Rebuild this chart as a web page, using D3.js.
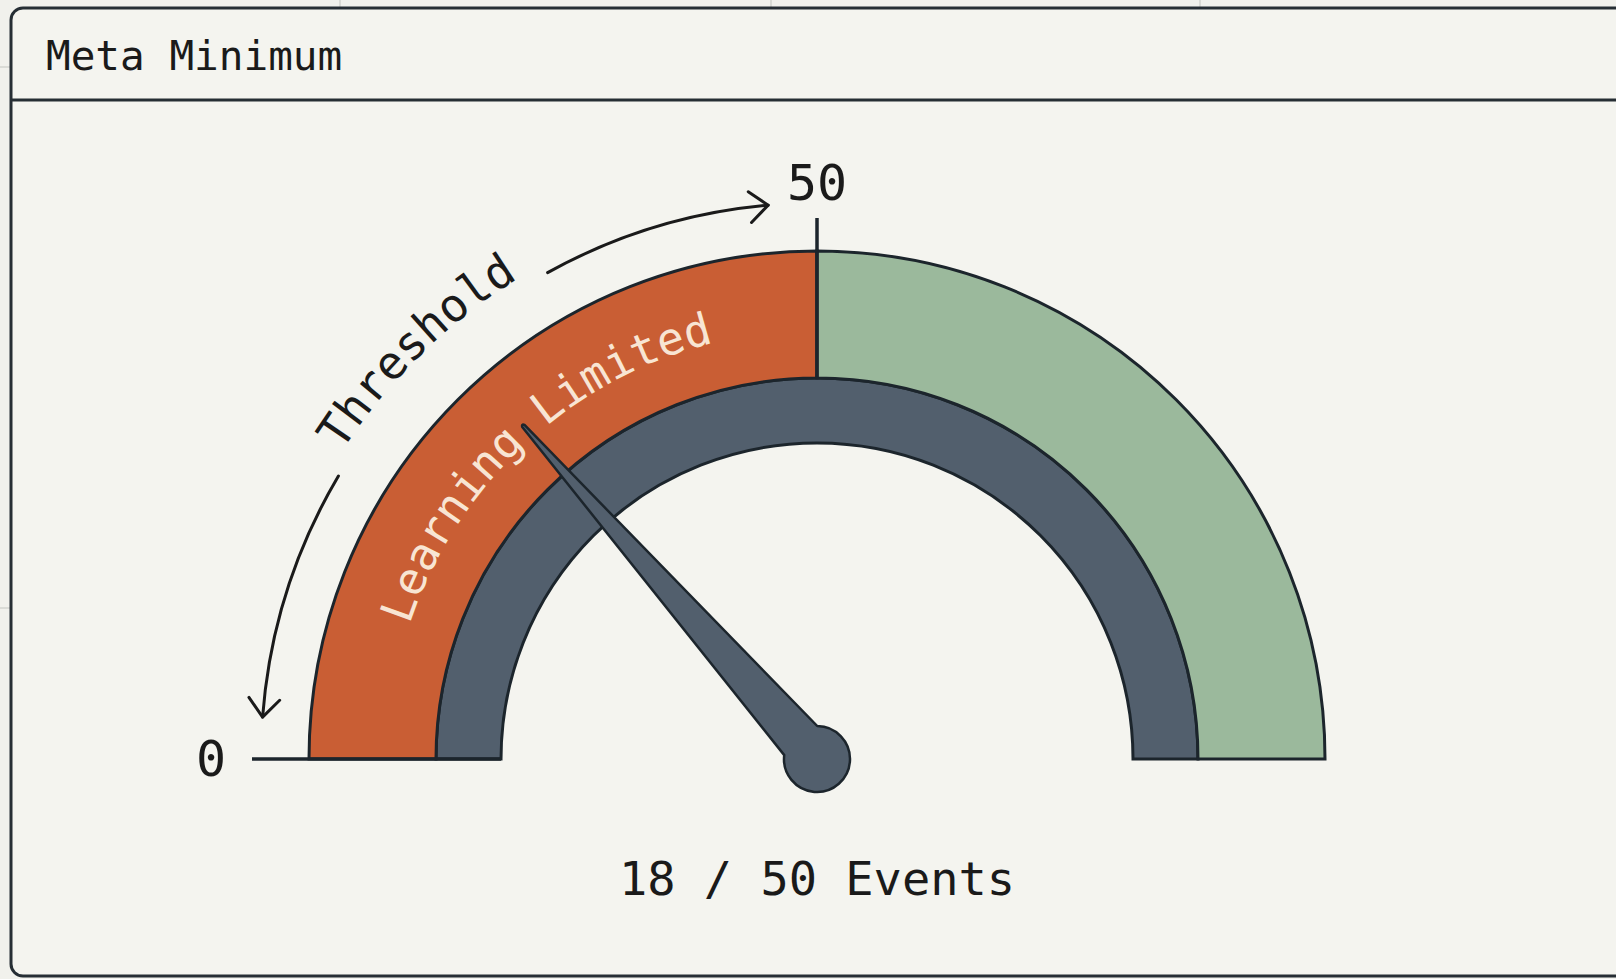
<!DOCTYPE html>
<html>
<head>
<meta charset="utf-8">
<script src="https://cdn.jsdelivr.net/npm/d3@7"></script>
<style>
  html, body { margin: 0; padding: 0; background: #f1f1ec; }
  #gauge { width: 1616px; height: 979px; }
  text { font-family: "DejaVu Sans Mono", monospace; }
</style>
</head>
<body>
<div id="gauge"></div>
<script>
// chart values
const titleText = "Meta Minimum";
const gaugeDomain = [0, 100];
const segmentStops = [0, 50, 100];
const segmentColors = ["#c95e34", "#9bb99c"];
const segmentLabels = ["Learning Limited", ""];
const tickValues = [0, 50];
const tickLabels = ["0", "50"];
const needleValue = 27;
const eventCount = 18;
const eventTarget = 50;
const thresholdLabel = "Threshold";

class GaugeVis {
  constructor(parentElement) {
    this.parentElement = parentElement;
    this.ink = "#1c252c";
    this.slate = "#525f6d";
    this.initVis();
  }

  initVis() {
    let vis = this;

    vis.width = 1616;
    vis.height = 979;
    vis.cx = 817;
    vis.cy = 759;

    // radii of the two rings
    vis.rOuter = 508;
    vis.rMid = 381;
    vis.rInner = 316;

    vis.svg = d3
      .select("#" + vis.parentElement)
      .append("svg")
      .attr("width", vis.width)
      .attr("height", vis.height);

    // faint dashboard grid behind the card
    [340, 771, 1200].forEach((x) => {
      vis.svg.append("line")
        .attr("x1", x).attr("x2", x).attr("y1", 0).attr("y2", 9)
        .attr("stroke", "#d2d3cf").attr("stroke-width", 1.5);
    });
    [67, 608].forEach((y) => {
      vis.svg.append("line")
        .attr("x1", 0).attr("x2", 11).attr("y1", y).attr("y2", y)
        .attr("stroke", "#d2d3cf").attr("stroke-width", 1.5);
    });

    // card
    vis.svg.append("rect")
      .attr("x", 11).attr("y", 8)
      .attr("width", vis.width + 20).attr("height", 968)
      .attr("rx", 12)
      .attr("fill", "#f4f4ef")
      .attr("stroke", "#262e34")
      .attr("stroke-width", 3);

    vis.svg.append("line")
      .attr("x1", 11).attr("x2", vis.width)
      .attr("y1", 100).attr("y2", 100)
      .attr("stroke", "#262e34")
      .attr("stroke-width", 3);

    vis.svg.append("text")
      .attr("x", 46).attr("y", 70)
      .attr("font-size", 41)
      .attr("fill", "#1a1a1a")
      .text(titleText);

    vis.g = vis.svg.append("g")
      .attr("transform", `translate(${vis.cx}, ${vis.cy})`);

    // 0 at the left, 100 at the right (d3.arc angles)
    vis.angle = d3.scaleLinear()
      .domain(gaugeDomain)
      .range([-Math.PI / 2, Math.PI / 2]);

    this.updateVis();
  }

  point(v, r) {
    let a = this.angle(v);
    return [r * Math.sin(a), -r * Math.cos(a)];
  }

  // half circle path drawn clockwise from left to right, for text
  halfCircle(r) {
    let p = d3.path();
    p.arc(0, 0, r, -Math.PI, 0, false);
    return p.toString();
  }

  arcPath(v0, v1, r) {
    let vis = this;
    let p = d3.path();
    p.arc(0, 0, r, vis.angle(v0) - Math.PI / 2, vis.angle(v1) - Math.PI / 2, v1 < v0);
    return p.toString();
  }

  updateVis() {
    let vis = this;

    // inner slate ring
    vis.g.append("path")
      .attr("d", d3.arc()({
        innerRadius: vis.rInner,
        outerRadius: vis.rMid,
        startAngle: vis.angle(gaugeDomain[0]),
        endAngle: vis.angle(gaugeDomain[1]),
      }))
      .attr("fill", vis.slate)
      .attr("stroke", vis.ink)
      .attr("stroke-width", 3);

    // outer coloured segments
    let segments = segmentColors.map((c, i) => ({
      start: segmentStops[i],
      end: segmentStops[i + 1],
      color: c,
      label: segmentLabels[i],
    }));

    vis.g.selectAll(".segment")
      .data(segments)
      .enter()
      .append("path")
      .attr("class", "segment")
      .attr("d", (d) => d3.arc()({
        innerRadius: vis.rMid,
        outerRadius: vis.rOuter,
        startAngle: vis.angle(d.start),
        endAngle: vis.angle(d.end),
      }))
      .attr("fill", (d) => d.color)
      .attr("stroke", vis.ink)
      .attr("stroke-width", 3);

    // text paths
    let defs = vis.svg.append("defs");
    defs.append("path").attr("id", "segPath").attr("d", vis.halfCircle(429));
    defs.append("path").attr("id", "thrPath").attr("d", vis.halfCircle(566));

    segments.filter((d) => d.label).forEach((d) => {
      vis.g.append("text")
        .attr("font-size", 45)
        .attr("fill", "#f8e5d3")
        .append("textPath")
        .attr("href", "#segPath")
        .attr("startOffset", "26.2%")
        .attr("text-anchor", "middle")
        .text(d.label);
    });

    // threshold label + arrows
    vis.g.append("text")
      .attr("font-size", 46)
      .attr("fill", "#1a1a1a")
      .append("textPath")
      .attr("href", "#thrPath")
      .attr("startOffset", "25.3%")
      .attr("text-anchor", "middle")
      .text(thresholdLabel);

    let arrows = [
      { from: 17, to: 2.4 },
      { from: 33.9, to: 47.2 },
    ];
    arrows.forEach((d) => {
      vis.g.append("path")
        .attr("d", vis.arcPath(d.from, d.to, 556))
        .attr("fill", "none")
        .attr("stroke", "#1a1a1a")
        .attr("stroke-width", 3)
        .attr("stroke-linecap", "round");

      // arrow head
      let tip = vis.point(d.to, 556);
      let back = vis.point(d.to + (d.from > d.to ? 1.2 : -1.2), 556);
      let dir = Math.atan2(tip[1] - back[1], tip[0] - back[0]);
      let len = 24, spread = (40 * Math.PI) / 180;
      let a1 = [tip[0] - len * Math.cos(dir - spread), tip[1] - len * Math.sin(dir - spread)];
      let a2 = [tip[0] - len * Math.cos(dir + spread), tip[1] - len * Math.sin(dir + spread)];
      vis.g.append("path")
        .attr("d", `M${a1[0]},${a1[1]}L${tip[0]},${tip[1]}L${a2[0]},${a2[1]}`)
        .attr("fill", "none")
        .attr("stroke", "#1a1a1a")
        .attr("stroke-width", 3)
        .attr("stroke-linejoin", "round")
        .attr("stroke-linecap", "round");
    });

    // baseline under the left ring ends
    let b0 = vis.point(gaugeDomain[0], vis.rInner);
    let b1 = vis.point(gaugeDomain[0], vis.rOuter);
    vis.g.append("line")
      .attr("x1", b0[0]).attr("y1", b0[1])
      .attr("x2", b1[0]).attr("y2", b1[1])
      .attr("stroke", vis.ink).attr("stroke-width", 3.5);

    // ticks
    tickValues.forEach((v, i) => {
      let r0 = i === 0 ? vis.rOuter : vis.rMid;
      let r1 = i === 0 ? 565 : 541;
      let p0 = vis.point(v, r0), p1 = vis.point(v, r1);
      vis.g.append("line")
        .attr("x1", p0[0]).attr("y1", p0[1])
        .attr("x2", p1[0]).attr("y2", p1[1])
        .attr("stroke", vis.ink)
        .attr("stroke-width", 3.5);

      let lp = vis.point(v, i === 0 ? 606 : 576);
      vis.g.append("text")
        .attr("x", lp[0]).attr("y", lp[1])
        .attr("text-anchor", "middle")
        .attr("dominant-baseline", "central")
        .attr("font-size", 50)
        .attr("fill", "#1a1a1a")
        .text(tickLabels[i]);
    });

    // needle: straight tapered shaft on a round hub
    let R = 33, hw = 22, L = 444, tw = 1.5;
    let yj = -Math.sqrt(R * R - hw * hw);
    let needlePath =
      `M${-hw},${yj}L${-tw},${-L}Q0,${-L - 3} ${tw},${-L}L${hw},${yj}` +
      `A${R},${R} 0 1 1 ${-hw},${yj}Z`;
    vis.g.append("path")
      .attr("d", needlePath)
      .attr("transform", `rotate(${(vis.angle(needleValue) * 180) / Math.PI})`)
      .attr("fill", vis.slate)
      .attr("stroke", vis.ink)
      .attr("stroke-width", 2.5)
      .attr("stroke-linejoin", "round");

    // readout
    vis.g.append("text")
      .attr("x", 0)
      .attr("y", 136)
      .attr("text-anchor", "middle")
      .attr("font-size", 47)
      .attr("fill", "#1a1a1a")
      .text(`${eventCount} / ${eventTarget} Events`);
  }
}

new GaugeVis("gauge");
</script>
</body>
</html>
